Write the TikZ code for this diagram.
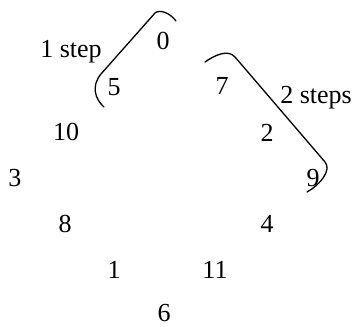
\documentclass[tikz,border=0pt]{standalone}
\usepackage{fontspec}
\setmainfont{Liberation Serif}
\begin{document}
\begin{tikzpicture}[x=1pt,y=-1pt,
  num/.style={inner sep=0pt,font=\fontsize{26}{30}\selectfont},
  brk/.style={draw,line width=1.3pt,line cap=round}]
\useasboundingbox (0,0) rectangle (355,326);
\node[num] (n0) at (163,41) {0};
\node[num] (n7) at (222,86) {7};
\node[num] (n2) at (267,133) {2};
\node[num] (n9) at (313,178) {9};
\node[num] (n4) at (267,224) {4};
\node[num] (n11) at (215,270) {11};
\node[num] (n6) at (164,313) {6};
\node[num] (n1) at (114,270) {1};
\node[num] (n8) at (65,224) {8};
\node[num] (n3) at (15,178) {3};
\node[num] (n10) at (66,132) {10};
\node[num] (n5) at (114,87) {5};
\node[num] (l1) at (71,52) {1 step};
\node[num] (l2) at (316,98) {2 steps};
\coordinate (a1) at (176,21);
\coordinate (a2) at (155,13);
\coordinate (a3) at (101,74);
\coordinate (a4) at (104,107);
\draw[brk] (a1) .. controls (170,13) and (160,9) .. (a2) -- (a3) .. controls (91,86) and (95,99) .. (a4);
\coordinate (b1) at (205,62);
\coordinate (b2) at (235,57);
\coordinate (b3) at (325,162);
\coordinate (b4) at (307,192);
\draw[brk] (b1) .. controls (215,55) and (228,49) .. (b2) -- (b3) .. controls (332,170) and (320,185) .. (b4);
\end{tikzpicture}
\end{document}
